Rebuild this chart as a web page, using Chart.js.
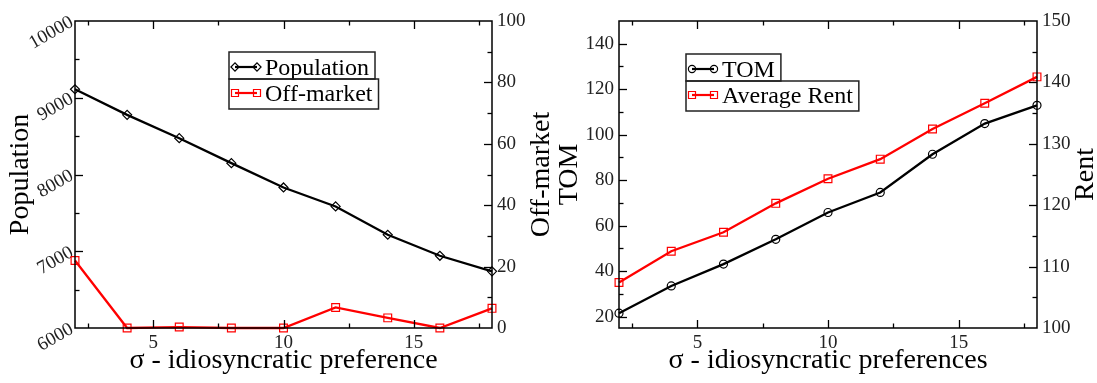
<!DOCTYPE html>
<html>
<head>
<meta charset="utf-8">
<script src="https://cdn.jsdelivr.net/npm/chart.js@4"></script>
<style>
  html, body { margin: 0; padding: 0; background: #fff; overflow: hidden; }
  #wrap { position: relative; width: 1097px; height: 383px; }
  canvas { position: absolute; left: 0; top: 0; }
</style>
</head>
<body>
<div id="wrap">
  <canvas id="leftChart" width="1097" height="383"></canvas>
  <canvas id="rightChart" width="1097" height="383"></canvas>
</div>
<script>
// values
const sigma = [2, 4, 6, 8, 10, 12, 14, 16, 18];
const population = [9111, 8777, 8473, 8148, 7831, 7584, 7215, 6941, 6738];
const offMarket = [22, 0, 0.3, 0, 0, 6.7, 3.3, 0, 6.4];
const tom = [21.5, 33.5, 43.1, 54, 65.8, 74.6, 91.4, 104.9, 112.9];
const rent = [107.4, 112.5, 115.6, 120.3, 124.3, 127.5, 132.4, 136.6, 140.9];

// tick labels
const sigmaTicks = [5, 10, 15];
const popTicks = [6000, 7000, 8000, 9000, 10000];
const offTicks = [0, 20, 40, 60, 80, 100];
const tomTicks = [20, 40, 60, 80, 100, 120, 140];
const rentTicks = [100, 110, 120, 130, 140, 150];

Chart.defaults.font.family = '"Liberation Serif", "Times New Roman", serif';
Chart.defaults.color = '#000';

const pts = (ys) => sigma.map((x, i) => ({ x: x, y: ys[i] }));
const tickFont = { size: 19 };
const titleFont = { size: 28, lineHeight: 1 };
const plain = v => String(v);

// inward ticks (major + minor) and the frame, like xmgrace
const frameTicks = {
  id: 'frameTicks',
  afterDatasetsDraw(chart, args, opts) {
    const { ctx, chartArea: a } = chart;
    ctx.save();
    ctx.strokeStyle = '#000';
    ctx.lineWidth = 1.5;
    ctx.strokeRect(a.left, a.top, a.right - a.left, a.bottom - a.top);
    ctx.lineWidth = 1.3;
    for (const [id, minor] of Object.entries(opts.minor)) {
      const sc = chart.scales[id];
      let v = sc.ticks[0].value;
      while (v - minor >= sc.min - 1e-9) v -= minor;
      for (; v <= sc.max + 1e-9; v += minor) {
        if (Math.abs(v - sc.min) < 1e-9 || Math.abs(v - sc.max) < 1e-9) continue;
        const major = sc.ticks.some(t => Math.abs(t.value - v) < 1e-6);
        const len = major ? 8 : 4.5;
        const p = Math.round(sc.getPixelForValue(v)) + 0.5;
        ctx.beginPath();
        if (sc.isHorizontal()) {
          ctx.moveTo(p, a.bottom); ctx.lineTo(p, a.bottom - len);
          ctx.moveTo(p, a.top); ctx.lineTo(p, a.top + len);
        } else if (sc.position === 'left') {
          ctx.moveTo(a.left, p); ctx.lineTo(a.left + len, p);
        } else {
          ctx.moveTo(a.right, p); ctx.lineTo(a.right - len, p);
        }
        ctx.stroke();
      }
    }
    ctx.restore();
  }
};

// right axis title reading upward (Chart.js would turn it the other way)
const upTitle = {
  id: 'upTitle',
  afterDraw(chart, args, opts) {
    if (!opts.text) return;
    const { ctx, chartArea: a } = chart;
    ctx.save();
    ctx.translate(opts.x, (a.top + a.bottom) / 2);
    ctx.rotate(-Math.PI / 2);
    ctx.font = '28px "Liberation Serif", serif';
    ctx.fillStyle = '#000';
    ctx.textAlign = 'center';
    ctx.textBaseline = 'middle';
    ctx.fillText(opts.text, 0, 0);
    ctx.restore();
  }
};

// boxed legend entries stacked under each other
const boxLegend = {
  id: 'boxLegend',
  afterDraw(chart, args, opts) {
    const ctx = chart.ctx;
    ctx.save();
    ctx.font = '24px "Liberation Serif", serif';
    ctx.textBaseline = 'alphabetic';
    let top = opts.y;
    chart.data.datasets.forEach((ds, i) => {
      const h = i === 0 ? 27 : 30;
      const w = 36 + ctx.measureText(ds.label).width + 6;
      ctx.strokeStyle = '#222';
      ctx.lineWidth = 1.5;
      ctx.strokeRect(opts.x, top, w, h);
      const cy = top + (i === 0 ? 15 : 14);
      ctx.strokeStyle = ds.borderColor;
      ctx.lineWidth = 2.2;
      ctx.beginPath();
      ctx.moveTo(opts.x + 6, cy); ctx.lineTo(opts.x + 28, cy);
      ctx.stroke();
      ctx.fillStyle = 'rgba(0,0,0,0)';
      ctx.lineWidth = 1.2;
      [opts.x + 6, opts.x + 28].forEach(px => {
        Chart.helpers.drawPoint(ctx, { pointStyle: ds.pointStyle, radius: ds.pointRadius * 0.9, borderWidth: 1.2, rotation: 0 }, px, cy);
      });
      ctx.fillStyle = '#000';
      ctx.fillText(ds.label, opts.x + 36, top + (i === 0 ? 23 : 22));
      top += h;
    });
    ctx.restore();
  }
};

function series(label, ys, color, style, radius, axis) {
  return {
    label: label,
    data: pts(ys),
    yAxisID: axis,
    borderColor: color,
    borderWidth: 2.3,
    pointStyle: style,
    pointRadius: radius,
    pointBorderColor: color,
    pointBackgroundColor: 'rgba(0,0,0,0)',
    pointBorderWidth: 1.2,
    tension: 0,
    clip: false
  };
}

function yAxis(pos, min, max, ticks, width, extra) {
  return Object.assign({
    type: 'linear',
    position: pos,
    min: min,
    max: max,
    grid: { drawOnChartArea: false, drawTicks: false },
    border: { display: false },
    afterBuildTicks: s => { s.ticks = ticks.map(v => ({ value: v })); },
    afterFit: s => { s.width = width; },
    ticks: { font: tickFont, color: '#222', autoSkip: false, padding: 5, callback: plain }
  }, extra);
}

function xAxis(title) {
  return {
    type: 'linear',
    position: 'bottom',
    min: 2,
    max: 18,
    grid: { drawOnChartArea: false, drawTicks: false },
    border: { display: false },
    afterBuildTicks: s => { s.ticks = sigmaTicks.map(v => ({ value: v })); },
    afterFit: s => { s.height = 55; },
    ticks: { font: tickFont, color: '#222', padding: 4, maxRotation: 0, autoSkip: false, callback: plain },
    title: { display: true, text: title, font: titleFont, padding: { top: 0, bottom: 8 } }
  };
}

const common = {
  responsive: false,
  animation: false,
  events: [],
  plugins: { legend: { display: false }, tooltip: { enabled: false } }
};

new Chart(document.getElementById('leftChart'), {
  type: 'line',
  data: {
    datasets: [
      series('Population', population, '#000000', 'rectRot', 4.5, 'y'),
      series('Off-market', offMarket, '#ff0000', 'rect', 5.5, 'y2')
    ]
  },
  options: Object.assign({}, common, {
    layout: { padding: { left: 0, right: 545, top: 21, bottom: 0 } },
    scales: {
      x: xAxis('σ - idiosyncratic preference'),
      y: yAxis('left', 6000, 10000, popTicks, 75, {
        ticks: { font: tickFont, color: '#222', autoSkip: false, padding: 3, minRotation: 30, maxRotation: 30, callback: plain },
        title: { display: true, text: 'Population', font: titleFont, padding: { top: 7, bottom: 0 } }
      }),
      y2: yAxis('right', 0, 100, offTicks, 60)
    },
    plugins: Object.assign({}, common.plugins, {
      frameTicks: { minor: { x: 2.5, y: 500, y2: 10 } },
      boxLegend: { x: 229, y: 52 },
      upTitle: {}
    })
  }),
  plugins: [frameTicks, boxLegend, upTitle]
});

new Chart(document.getElementById('rightChart'), {
  type: 'line',
  data: {
    datasets: [
      series('TOM', tom, '#000000', 'circle', 4, 'y'),
      series('Average Rent', rent, '#ff0000', 'rect', 5.5, 'y2')
    ]
  },
  options: Object.assign({}, common, {
    layout: { padding: { left: 520, right: 0, top: 21, bottom: 0 } },
    scales: {
      x: xAxis('σ - idiosyncratic preferences'),
      y: yAxis('left', 15, 150, tomTicks, 99, {
        title: { display: true, text: ['Off-market', 'TOM'], font: titleFont, padding: { top: 8, bottom: 0 } }
      }),
      y2: yAxis('right', 100, 150, rentTicks, 60)
    },
    plugins: Object.assign({}, common.plugins, {
      frameTicks: { minor: { x: 2.5, y: 10, y2: 5 } },
      boxLegend: { x: 686, y: 54 },
      upTitle: { text: 'Rent', x: 1086 }
    })
  }),
  plugins: [frameTicks, boxLegend, upTitle]
});
</script>
</body>
</html>
